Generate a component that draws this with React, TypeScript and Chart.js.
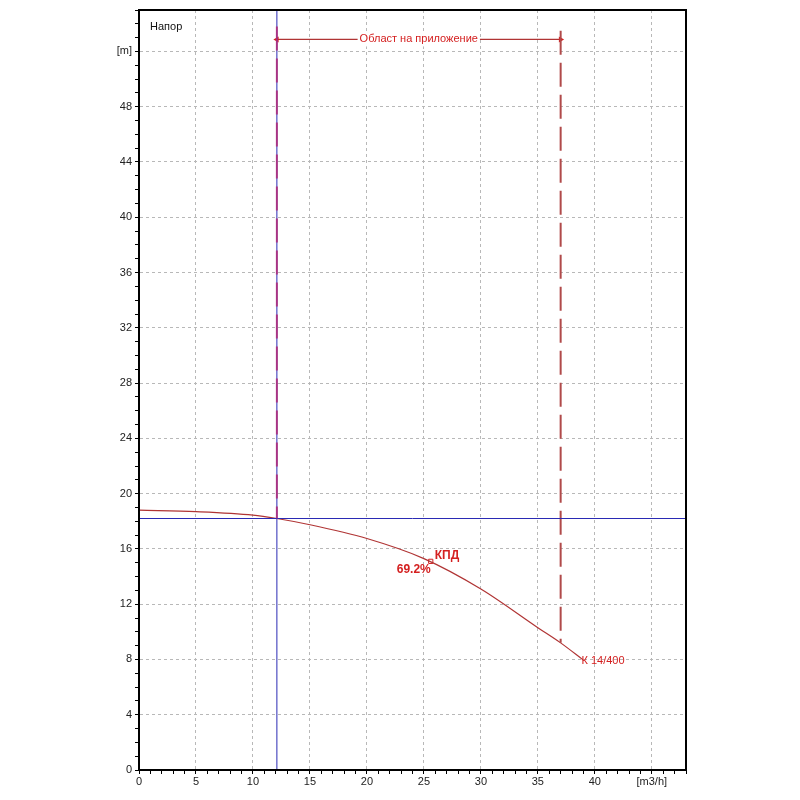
import React, { useEffect, useRef } from "react";
import { Chart, registerables } from "chart.js";

Chart.register(...registerables);

// Pump curve (flow m3/h -> head m)
const curveQ = [0, 5, 10, 12.1, 15, 20, 25, 30, 35, 37, 39];
const curveH = [18.8, 18.7, 18.45, 18.2, 17.75, 16.75, 15.3, 13.1, 10.3, 9.2, 7.95];

// Operating point
const dutyQ = 12.1;
const dutyH = 18.2;

// Application range
const rangeMinQ = 12.1;
const rangeMaxQ = 37;
const rangeMaxH = 9.2;
const rangeTopH = 53.5;
const rangeArrowH = 52.87;

// Efficiency point
const effQ = 25.6;
const effH = 15.1;
const effLabel = "69.2%";

const xMin = 0;
const xMax = 48;
const yMin = 0;
const yMax = 55;

const RED_TEXT = "#d42020";
const RED_CURVE = "#b03434";
const RED_DASH = "#b04a4a";
const BLUE = "#2a2ab4";

const textPlugin = {
  id: "texts",
  afterDatasetsDraw(chart: any) {
    const { ctx, chartArea, scales } = chart;
    const x = scales.x;
    const y = scales.y;
    ctx.save();
    // frame
    ctx.strokeStyle = "#000";
    ctx.lineWidth = 2;
    ctx.strokeRect(chartArea.left, chartArea.top, chartArea.right - chartArea.left, chartArea.bottom - chartArea.top);

    ctx.textBaseline = "middle";
    // Напор
    ctx.fillStyle = "#111";
    ctx.font = "11px 'Liberation Sans', Arial, sans-serif";
    ctx.textAlign = "left";
    ctx.fillText("Напор", chartArea.left + 11, chartArea.top + 17);

    // range label
    const midX = x.getPixelForValue((rangeMinQ + rangeMaxQ) / 2);
    const ay = y.getPixelForValue(rangeArrowH);
    ctx.font = "11px 'Liberation Sans', Arial, sans-serif";
    const label = "Област на приложение";
    const w = ctx.measureText(label).width;
    ctx.fillStyle = "#fff";
    ctx.fillRect(midX - w / 2 - 2, ay - 7, w + 4, 14);
    ctx.fillStyle = RED_TEXT;
    ctx.textAlign = "center";
    ctx.fillText(label, midX, ay);

    // КПД
    const ex = x.getPixelForValue(effQ);
    const ey = y.getPixelForValue(effH);
    ctx.font = "bold 12px 'Liberation Sans', Arial, sans-serif";
    ctx.textAlign = "left";
    ctx.fillText("КПД", ex + 4, ey - 6);
    ctx.textAlign = "right";
    ctx.fillText(effLabel, ex, ey + 8);

    // pump name
    const lx = x.getPixelForValue(curveQ[curveQ.length - 1]);
    const ly = y.getPixelForValue(curveH[curveH.length - 1]);
    ctx.font = "11px 'Liberation Sans', Arial, sans-serif";
    ctx.textAlign = "left";
    ctx.fillText("К 14/400", lx - 2, ly + 1);
    ctx.restore();
  },
};

export default function App() {
  const ref = useRef<HTMLCanvasElement | null>(null);

  useEffect(() => {
    if (!ref.current) return;
    const chart = new Chart(ref.current, {
      type: "scatter",
      data: {
        datasets: [
          {
            label: "range12",
            data: [
              { x: rangeMinQ, y: rangeTopH + 0.3 },
              { x: rangeMinQ, y: dutyH },
            ],
            showLine: true,
            borderColor: "rgba(176,40,120,0.85)",
            borderWidth: 2,
            borderDash: [24, 8],
            pointRadius: 0,
          },
          {
            label: "blueV",
            data: [
              { x: dutyQ, y: yMin },
              { x: dutyQ, y: yMax },
            ],
            showLine: true,
            borderColor: BLUE,
            borderWidth: 1,
            pointRadius: 0,
          },
          {
            label: "blueH",
            data: [
              { x: xMin, y: dutyH },
              { x: xMax, y: dutyH },
            ],
            showLine: true,
            borderColor: BLUE,
            borderWidth: 1,
            pointRadius: 0,
          },
          {
            label: "range37",
            data: [
              { x: rangeMaxQ, y: rangeTopH },
              { x: rangeMaxQ, y: rangeMaxH },
            ],
            showLine: true,
            borderColor: RED_DASH,
            borderWidth: 2,
            borderDash: [24, 8],
            pointRadius: 0,
          },
          {
            label: "arrow",
            data: [
              { x: rangeMinQ, y: rangeArrowH },
              { x: rangeMaxQ, y: rangeArrowH },
            ],
            showLine: true,
            borderColor: RED_CURVE,
            borderWidth: 1.2,
            pointStyle: "triangle",
            pointRadius: 3.5,
            pointRotation: (c: any) => (c.dataIndex === 0 ? -90 : 90),
            pointBackgroundColor: RED_TEXT,
            pointBorderColor: RED_TEXT,
            pointBorderWidth: 0,
          },
          {
            label: "curve",
            data: curveQ.map((q, i) => ({ x: q, y: curveH[i] })),
            showLine: true,
            borderColor: RED_CURVE,
            borderWidth: 1.2,
            cubicInterpolationMode: "monotone",
            pointRadius: 0,
          },
          {
            label: "eff",
            data: [{ x: effQ, y: effH }],
            pointStyle: "rect",
            pointRadius: 3,
            pointBackgroundColor: "#fff",
            pointBorderColor: RED_TEXT,
            pointBorderWidth: 1,
          },
        ] as any,
      },
      options: {
        animation: false,
        responsive: false,
        events: [],
        layout: { padding: { top: 10, right: 114, left: 0, bottom: 0 } },
        plugins: {
          legend: { display: false },
          tooltip: { enabled: false },
        },
        scales: {
          x: {
            type: "linear",
            min: xMin,
            max: xMax,
            afterFit: (s: any) => {
              s.height = 30;
            },
            border: { display: true, color: "#000", width: 2, dash: [3, 3] },
            grid: {
              color: (c: any) => (c.tick && c.tick.value % 5 === 0 ? "#b8b8b8" : "rgba(0,0,0,0)"),
              lineWidth: 1,
              tickColor: "#000",
              tickLength: 4,
              tickWidth: 1,
            },
            ticks: {
              stepSize: 1,
              autoSkip: false,
              maxRotation: 0,
              padding: 1,
              color: "#222",
              font: { family: "'Liberation Sans', Arial, sans-serif", size: 11 },
              callback: (v: any) => {
                const n = Number(v);
                if (n === 45) return "[m3/h]";
                if (n % 5 === 0 && n <= 40) return String(n);
                return "";
              },
            },
          },
          y: {
            type: "linear",
            min: yMin,
            max: yMax,
            afterFit: (s: any) => {
              s.width = 139;
            },
            border: { display: true, color: "#000", width: 2, dash: [3, 3] },
            grid: {
              color: (c: any) => (c.tick && c.tick.value % 4 === 0 ? "#b8b8b8" : "rgba(0,0,0,0)"),
              lineWidth: 1,
              tickColor: "#000",
              tickLength: 4,
              tickWidth: 1,
            },
            ticks: {
              stepSize: 1,
              autoSkip: false,
              padding: 3,
              color: "#222",
              font: { family: "'Liberation Sans', Arial, sans-serif", size: 11 },
              callback: (v: any) => {
                const n = Number(v);
                if (n === 52) return "[m]";
                if (n % 4 === 0 && n <= 48) return String(n);
                return "";
              },
            },
          },
        },
      } as any,
      plugins: [textPlugin],
    });
    return () => chart.destroy();
  }, []);

  return (
    <div style={{ position: "absolute", left: 0, top: 0, width: 800, height: 800, background: "#fff" }}>
      <canvas ref={ref} width={800} height={800} style={{ width: 800, height: 800 }} />
    </div>
  );
}
